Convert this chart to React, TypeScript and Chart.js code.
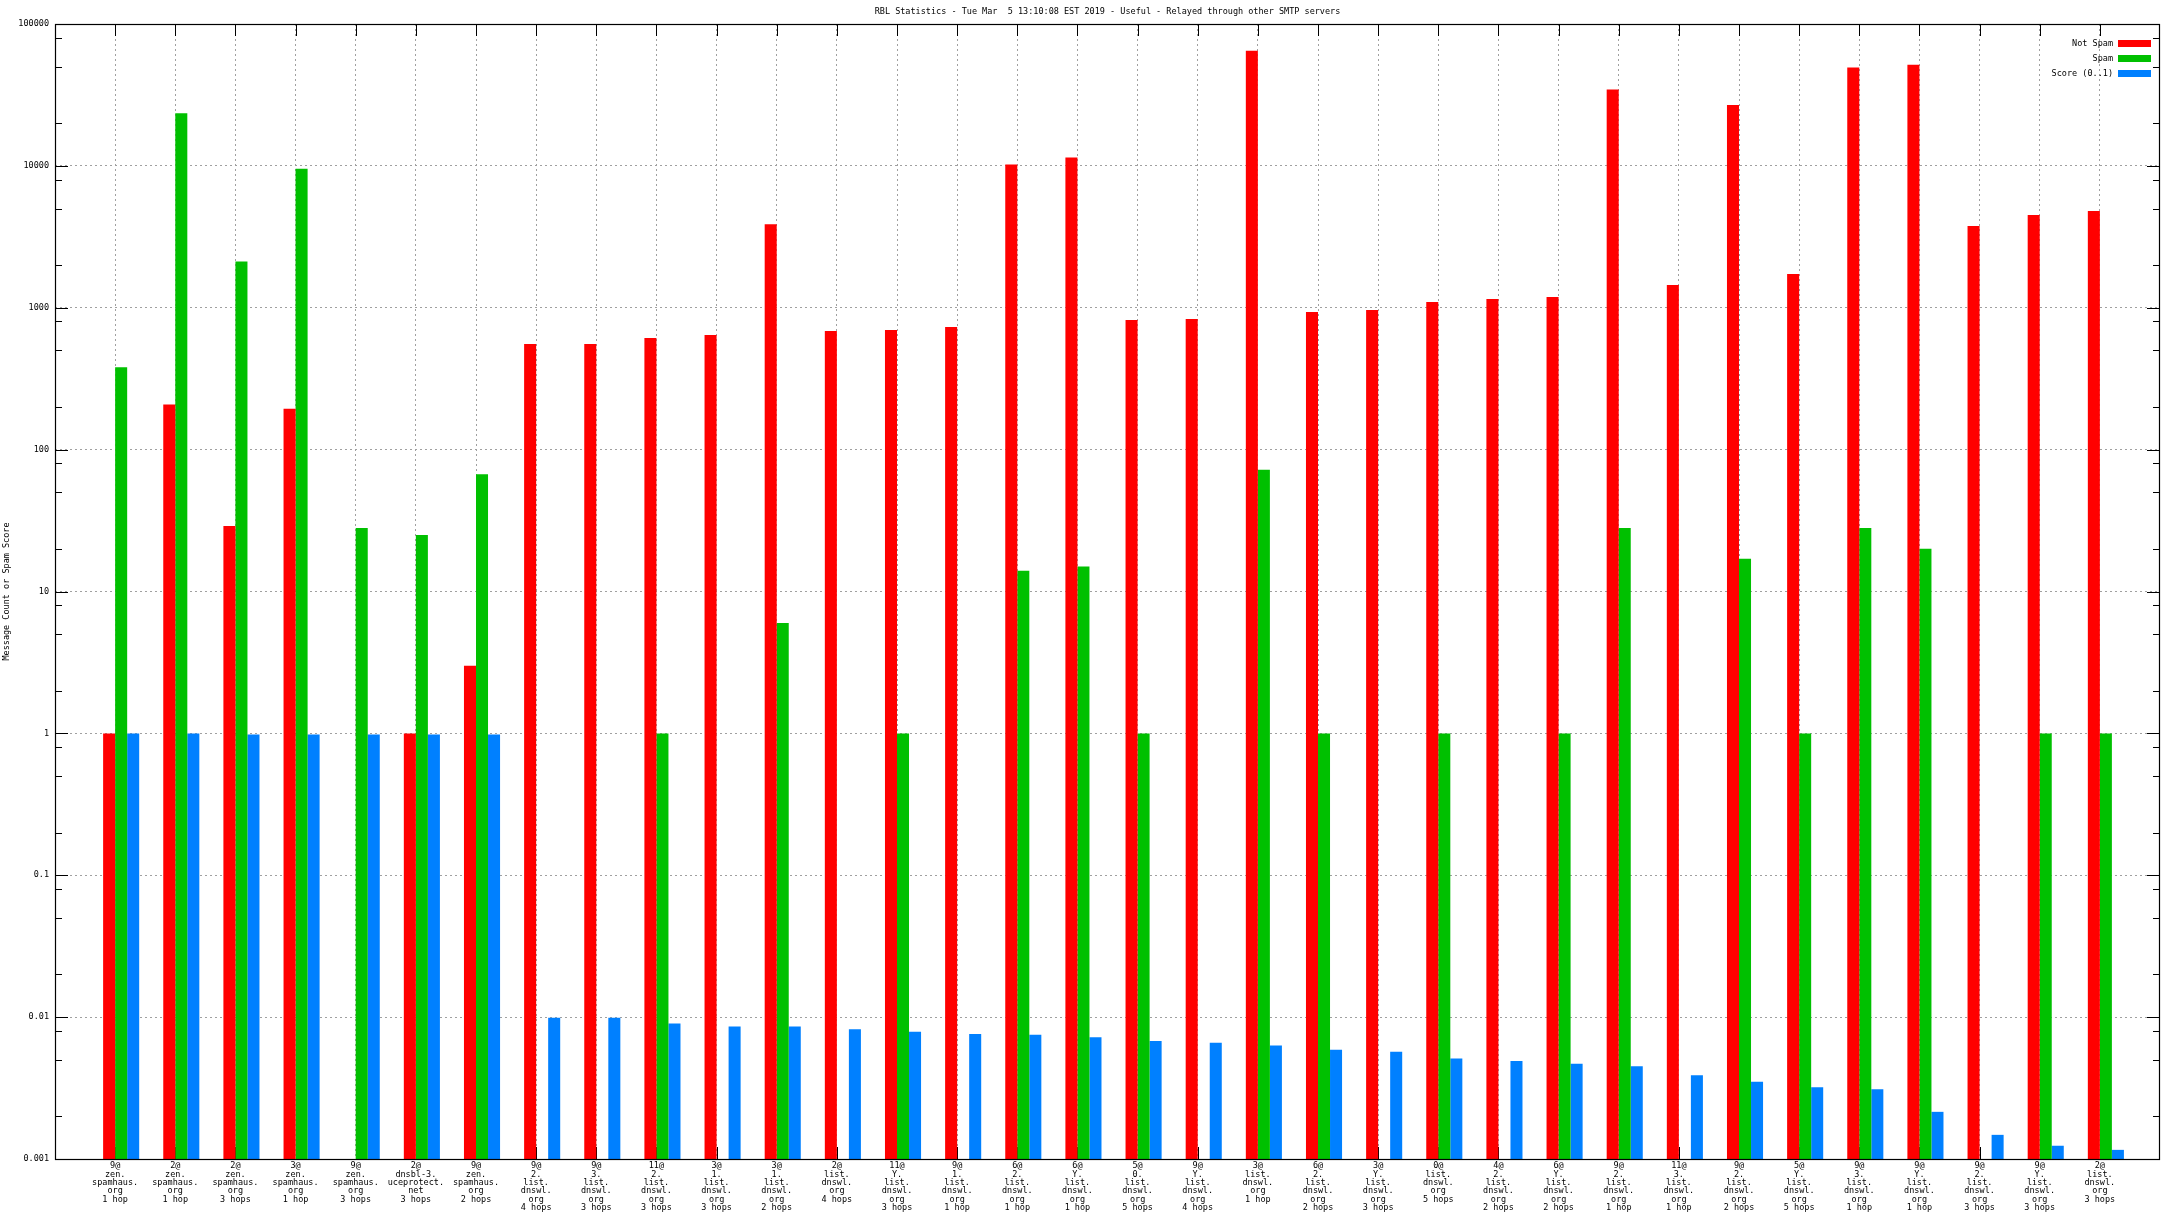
import { useEffect, useRef } from "react";
import { Chart, registerables } from "chart.js";

Chart.register(...registerables);

const TITLE =
  "RBL Statistics - Tue Mar  5 13:10:08 EST 2019 - Useful - Relayed through other SMTP servers";
const Y_TITLE = "Message Count or Spam Score";
const SERIES_NAMES = ["Not Spam", "Spam", "Score (0..1)"];
const SERIES_COLORS = ["#ff0000", "#00c000", "#0080ff"];

const categories: string[][] = [
  ["9@", "zen.", "spamhaus.", "org", "1 hop"],
  ["2@", "zen.", "spamhaus.", "org", "1 hop"],
  ["2@", "zen.", "spamhaus.", "org", "3 hops"],
  ["3@", "zen.", "spamhaus.", "org", "1 hop"],
  ["9@", "zen.", "spamhaus.", "org", "3 hops"],
  ["2@", "dnsbl-3.", "uceprotect.", "net", "3 hops"],
  ["9@", "zen.", "spamhaus.", "org", "2 hops"],
  ["9@", "2.", "list.", "dnswl.", "org", "4 hops"],
  ["9@", "3.", "list.", "dnswl.", "org", "3 hops"],
  ["11@", "2.", "list.", "dnswl.", "org", "3 hops"],
  ["3@", "1.", "list.", "dnswl.", "org", "3 hops"],
  ["3@", "1.", "list.", "dnswl.", "org", "2 hops"],
  ["2@", "list.", "dnswl.", "org", "4 hops"],
  ["11@", "Y.", "list.", "dnswl.", "org", "3 hops"],
  ["9@", "1.", "list.", "dnswl.", "org", "1 hop"],
  ["6@", "2.", "list.", "dnswl.", "org", "1 hop"],
  ["6@", "Y.", "list.", "dnswl.", "org", "1 hop"],
  ["5@", "0.", "list.", "dnswl.", "org", "5 hops"],
  ["9@", "Y.", "list.", "dnswl.", "org", "4 hops"],
  ["3@", "list.", "dnswl.", "org", "1 hop"],
  ["6@", "2.", "list.", "dnswl.", "org", "2 hops"],
  ["3@", "Y.", "list.", "dnswl.", "org", "3 hops"],
  ["0@", "list.", "dnswl.", "org", "5 hops"],
  ["4@", "2.", "list.", "dnswl.", "org", "2 hops"],
  ["6@", "Y.", "list.", "dnswl.", "org", "2 hops"],
  ["9@", "2.", "list.", "dnswl.", "org", "1 hop"],
  ["11@", "3.", "list.", "dnswl.", "org", "1 hop"],
  ["9@", "2.", "list.", "dnswl.", "org", "2 hops"],
  ["5@", "Y.", "list.", "dnswl.", "org", "5 hops"],
  ["9@", "3.", "list.", "dnswl.", "org", "1 hop"],
  ["9@", "Y.", "list.", "dnswl.", "org", "1 hop"],
  ["9@", "2.", "list.", "dnswl.", "org", "3 hops"],
  ["9@", "Y.", "list.", "dnswl.", "org", "3 hops"],
  ["2@", "list.", "dnswl.", "org", "3 hops"],
];

const notSpam: (number | null)[] = [
  1, 208, 29, 194, null, 1, 3, 556, 556, 612, 643, 3880, 687, 698, 733, 10230,
  11450, 820, 834, 64800, 934, 965, 1099, 1153, 1191, 34500, 1448, 26900, 1730,
  49400, 51700, 3770, 4510, 4810,
];

const spam: (number | null)[] = [
  380, 23500, 2115, 9550, 28, 25, 67, null, null, 1, null, 6, null, 1, null, 14,
  15, 1, null, 72, 1, null, 1, null, 1, 28, null, 17, 1, 28, 20, null, 1, 1,
];

const score: (number | null)[] = [
  1, 1, 0.98, 0.98, 0.98, 0.98, 0.98, 0.0099, 0.0099, 0.009, 0.0086, 0.0086,
  0.0082, 0.0079, 0.0076, 0.0075, 0.0072, 0.0068, 0.0066, 0.0063, 0.0059,
  0.0057, 0.0051, 0.0049, 0.0047, 0.0045, 0.0039, 0.0035, 0.0032, 0.0031,
  0.00215, 0.00148, 0.00124, 0.00116,
];

const Y_MAJOR_VALUES = [0.001, 0.01, 0.1, 1, 10, 100, 1000, 10000, 100000];
const Y_MAJOR_LABELS = ["0.001", "0.01", "0.1", "1", "10", "100", "1000", "10000", "100000"];
const Y_MINOR_FACTORS = [2, 5, 8];

const FONT = "'DejaVu Sans Mono', monospace";
const GROUP_SHIFT = 0.1;

function majorIndex(v: number): number {
  for (let i = 0; i < Y_MAJOR_VALUES.length; i++) {
    if (Math.abs(v - Y_MAJOR_VALUES[i]) / Y_MAJOR_VALUES[i] < 1e-6) return i;
  }
  return -1;
}

const decor = {
  id: "decor",
  beforeDatasetsDraw(chart: any) {
    const { ctx, chartArea: a, scales } = chart;
    const xs = scales.x;
    ctx.save();
    ctx.strokeStyle = "#000";
    ctx.lineWidth = 1;
    ctx.beginPath();
    xs.ticks.forEach((t: any) => {
      const px = Math.round(xs.getPixelForValue(t.value)) + 0.5;
      ctx.moveTo(px, a.bottom);
      ctx.lineTo(px, a.bottom - 12);
    });
    ctx.stroke();
    ctx.restore();
  },
  afterDatasetsDraw(chart: any) {
    const { ctx, chartArea: a, scales } = chart;
    const xs = scales.x;
    const ys = scales.y;
    ctx.save();
    ctx.strokeStyle = "#000";
    ctx.lineWidth = 1;
    ctx.beginPath();
    xs.ticks.forEach((t: any) => {
      const px = Math.round(xs.getPixelForValue(t.value)) + 0.5;
      ctx.moveTo(px, a.top);
      ctx.lineTo(px, a.top + 12);
    });
    const L = Math.round(a.left) + 0.5;
    const R = Math.round(a.right) - 0.5;
    ys.ticks.forEach((t: any) => {
      const py = Math.round(ys.getPixelForValue(t.value)) + 0.5;
      const len = majorIndex(t.value) >= 0 ? 12.5 : 6.5;
      ctx.moveTo(L, py);
      ctx.lineTo(L + len, py);
      ctx.moveTo(R, py);
      ctx.lineTo(R - len, py);
    });
    ctx.stroke();
    ctx.lineWidth = 1.2;
    ctx.strokeRect(L, Math.round(a.top) + 0.5, R - L, Math.round(a.bottom) - Math.round(a.top));
    ctx.restore();
  },
  afterDraw(chart: any) {
    const { ctx, chartArea: a } = chart;
    ctx.save();
    ctx.fillStyle = "#000";
    ctx.font = `8.5px ${FONT}`;
    ctx.textAlign = "center";
    ctx.textBaseline = "middle";
    ctx.fillText(TITLE, (a.left + a.right) / 2, 12);

    ctx.save();
    ctx.translate(7, (a.top + a.bottom) / 2);
    ctx.rotate(-Math.PI / 2);
    ctx.fillText(Y_TITLE, 0, 0);
    ctx.restore();

    ctx.textAlign = "right";
    SERIES_NAMES.forEach((name, k) => {
      const cy = a.top + 19.5 + k * 15;
      ctx.fillStyle = "#000";
      ctx.fillText(name, a.right - 47, cy);
      ctx.fillStyle = SERIES_COLORS[k];
      ctx.fillRect(a.right - 42, cy - 3.5, 33, 7);
    });
    ctx.restore();
  },
};

export default function App() {
  const ref = useRef<HTMLCanvasElement>(null);

  useEffect(() => {
    const canvas = ref.current;
    if (!canvas) return;
    const series = [notSpam, spam, score];
    const datasets = series.map((vals, k) => ({
      label: SERIES_NAMES[k],
      data: vals.map((v, i) => ({ x: i + 1 + GROUP_SHIFT, y: v })),
      backgroundColor: SERIES_COLORS[k],
      borderWidth: 0,
      categoryPercentage: 0.6,
      barPercentage: 1.0,
    }));

    const chart = new Chart(canvas, {
      type: "bar",
      data: { datasets: datasets as any },
      options: {
        animation: false,
        responsive: false,
        devicePixelRatio: 1,
        layout: { padding: { top: 24, left: 0, right: 16, bottom: 0 } },
        plugins: {
          legend: { display: false },
          title: { display: false },
          tooltip: { enabled: false },
        },
        scales: {
          x: {
            type: "linear",
            min: 0,
            max: categories.length + 1,
            offset: false,
            afterBuildTicks: (s: any) => {
              s.ticks = categories.map((_, i) => ({ value: i + 1 }));
            },
            afterFit: (s: any) => {
              s.height = 65;
            },
            grid: { color: "#a0a0a0", lineWidth: 1, drawTicks: false, offset: false },
            border: { display: false, dash: [2, 3] },
            ticks: {
              autoSkip: false,
              maxRotation: 0,
              minRotation: 0,
              padding: 3,
              color: "#000",
              font: { family: FONT, size: 8.5, lineHeight: "8.3px" },
              callback: (v: any) => categories[Math.round(Number(v)) - 1] ?? "",
            },
          },
          y: {
            type: "logarithmic",
            min: Y_MAJOR_VALUES[0],
            max: Y_MAJOR_VALUES[Y_MAJOR_VALUES.length - 1],
            afterBuildTicks: (s: any) => {
              const t: any[] = [];
              Y_MAJOR_VALUES.forEach((m, i) => {
                t.push({ value: m, major: true });
                if (i < Y_MAJOR_VALUES.length - 1) {
                  Y_MINOR_FACTORS.forEach((f) => t.push({ value: m * f, major: false }));
                }
              });
              s.ticks = t;
            },
            afterFit: (s: any) => {
              s.width = 55;
            },
            grid: {
              color: (c: any) =>
                c.tick && majorIndex(c.tick.value) >= 0 ? "#a0a0a0" : "rgba(0,0,0,0)",
              lineWidth: 1,
              drawTicks: false,
            },
            border: { display: false, dash: [2, 3] },
            ticks: {
              padding: 6,
              color: "#000",
              autoSkip: false,
              font: { family: FONT, size: 8.5 },
              callback: (v: any) => {
                const i = majorIndex(Number(v));
                return i >= 0 ? Y_MAJOR_LABELS[i] : "";
              },
            },
          },
        },
      } as any,
      plugins: [decor],
    });
    return () => chart.destroy();
  }, []);

  return (
    <div
      style={{
        position: "absolute",
        left: 0,
        top: 0,
        width: 2176,
        height: 1224,
        background: "#fff",
      }}
    >
      <canvas ref={ref} width={2176} height={1224} style={{ display: "block" }} />
    </div>
  );
}
